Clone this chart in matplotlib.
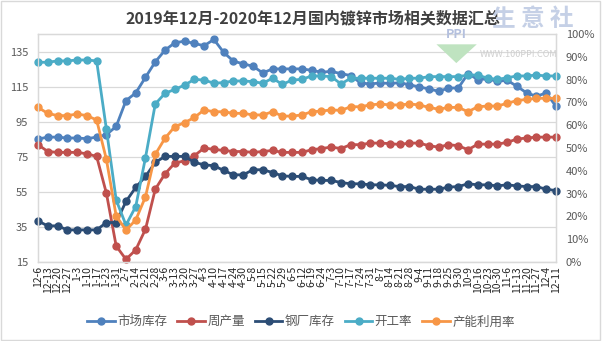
import matplotlib
matplotlib.use("Agg")
import matplotlib.pyplot as plt
from matplotlib.ticker import PercentFormatter
from matplotlib.patches import Rectangle, Polygon

plt.rcParams['font.family'] = ['Noto Sans CJK SC', 'DejaVu Sans']

dates = ["12-6", "12-13", "12-20", "12-27", "1-3", "1-10", "1-17", "1-23", "1-31",
         "2-7", "2-14", "2-21", "2-28", "3-6", "3-13", "3-20", "3-27",
         "4-3", "4-10", "4-17", "4-24", "4-30", "5-8", "5-15", "5-22", "5-29",
         "6-5", "6-12", "6-19", "6-24", "7-3", "7-10", "7-17", "7-24", "7-31",
         "8-7", "8-14", "8-21", "8-28", "9-4", "9-11", "9-18", "9-25", "9-30",
         "10-9", "10-16", "10-23", "10-30", "11-6", "11-13", "11-20", "11-27",
         "12-4", "12-11"]

# left axis (万吨)
market_stock = [85.1, 86.2, 86.2, 85.7, 85.7, 85.3, 86.2, 87.6, 92.3, 107.0,
                111.4, 120.3, 129.1, 135.8, 140.0, 140.9, 139.6, 138.3, 141.9, 134.5,
                129.5, 128.0, 126.6, 122.8, 125.1, 125.1, 125.1, 125.1, 124.3, 123.2,
                123.7, 122.4, 121.3, 117.1, 116.5, 117.1, 116.8, 117.2, 116.1, 114.8,
                113.7, 112.3, 114.2, 114.2, 122.4, 119.0, 119.4, 118.0, 118.6, 115.2,
                111.4, 109.5, 111.4, 103.7]
weekly_output = [81.9, 78.0, 77.5, 77.5, 77.5, 76.7, 75.2, 54.2, 24.1, 16.5,
                 21.9, 33.7, 56.5, 65.3, 71.4, 72.7, 75.6, 80.0, 79.2, 78.6,
                 78.0, 78.0, 77.5, 78.0, 78.6, 77.5, 77.5, 77.5, 79.0, 79.7,
                 80.5, 79.7, 81.9, 81.9, 82.8, 82.8, 82.5, 82.0, 82.8, 82.8,
                 81.3, 80.5, 81.9, 81.3, 79.0, 82.2, 82.2, 82.2, 83.2, 85.1,
                 85.7, 86.2, 86.2, 86.2]
mill_stock = [38.4, 35.6, 35.6, 33.3, 33.3, 33.3, 33.3, 37.5, 37.5, 49.5,
              57.5, 63.8, 71.8, 75.2, 75.2, 75.2, 71.8, 70.4, 69.9, 67.2,
              64.7, 64.7, 67.6, 67.6, 66.0, 64.1, 63.8, 63.8, 61.9, 61.5,
              61.5, 60.3, 59.6, 59.6, 59.0, 59.0, 58.7, 58.0, 58.0, 56.5,
              56.5, 56.5, 57.7, 58.0, 59.6, 59.0, 59.0, 58.4, 59.0, 58.4,
              58.0, 58.0, 56.5, 55.7]

# right axis (%)
operating_rate = [87.6, 87.6, 88.2, 88.2, 88.6, 88.6, 88.2, 58.2, 27.2, 16.2,
                  24.3, 45.8, 69.3, 74.0, 75.7, 77.6, 80.1, 79.8, 78.4, 78.7,
                  79.4, 79.4, 79.1, 78.4, 80.6, 77.9, 79.8, 80.1, 81.6, 81.6,
                  81.3, 78.1, 80.6, 80.6, 80.6, 80.6, 80.6, 80.1, 80.6, 80.6,
                  81.3, 81.3, 81.3, 81.3, 82.0, 82.0, 80.6, 80.1, 80.8, 81.6,
                  81.6, 82.0, 81.6, 81.6]
capacity_util = [67.8, 65.2, 64.2, 64.2, 64.9, 64.2, 62.3, 45.0, 20.2, 14.0,
                 18.4, 28.6, 47.2, 54.3, 59.4, 61.1, 63.4, 66.7, 65.9, 65.9,
                 65.2, 65.2, 64.5, 64.5, 65.9, 64.0, 64.0, 64.5, 65.9, 66.2,
                 66.7, 66.5, 68.1, 68.1, 68.9, 69.3, 68.9, 68.9, 69.3, 68.9,
                 67.8, 67.0, 67.8, 67.8, 65.9, 68.1, 68.4, 68.4, 69.6, 70.8,
                 71.3, 71.8, 71.8, 71.8]

grid_c = "#D9D9D9"
text_c = "#595959"

fig = plt.figure(figsize=(6.02, 3.41), dpi=100)
fig.patches.append(Rectangle((0.002, 0.003), 0.995, 0.993, transform=fig.transFigure,
                             fill=False, edgecolor=grid_c, linewidth=1.0))

ax = fig.add_axes([0.0631, 0.2317, 0.8605, 0.6686])
ax2 = ax.twinx()
x = list(range(len(dates)))

style = dict(linewidth=2.0, marker="o", markersize=5, clip_on=False)
h1, = ax.plot(x, market_stock, color="#4F81BD", label="市场库存", **style)
h2, = ax.plot(x, weekly_output, color="#C0504D", label="周产量", **style)
h3, = ax.plot(x, mill_stock, color="#2C4D75", label="钢厂库存", **style)
h4, = ax2.plot(x, operating_rate, color="#4BACC6", label="开工率", **style)
h5, = ax2.plot(x, capacity_util, color="#F79646", label="产能利用率", **style)

ax.set_xlim(0, len(dates) - 1)
ax.set_ylim(15, 145)
ax.set_yticks(range(15, 136, 20))
ax.yaxis.grid(True, color=grid_c, linewidth=0.9)
ax.set_axisbelow(True)
ax.set_xticks(x)
ax.set_xticklabels(dates, rotation=90, fontsize=7.5, color="#262626")

ax2.set_ylim(0, 100)
ax2.set_yticks(range(0, 101, 10))
ax2.yaxis.set_major_formatter(PercentFormatter(xmax=100, decimals=0))

for a in (ax, ax2):
    for s in a.spines.values():
        s.set_color(grid_c)
        s.set_linewidth(0.9)
    a.tick_params(axis="both", length=0, labelsize=8, labelcolor=text_c)
ax.tick_params(axis="y", pad=7)
ax2.tick_params(axis="y", pad=7)
ax.tick_params(axis="x", pad=3, labelsize=7.5, labelcolor="#262626")

fig.text(0.52, 0.945, "2019年12月-2020年12月国内镀锌市场相关数据汇总",
         ha="center", va="center", fontsize=11.5, fontweight="bold", color="#404040")

# site watermark, kept clear of the right tick labels
fig.text(0.885, 0.945, "生 意 社", ha="center", va="center", fontsize=17,
         color="#C5D0E6", fontweight="bold")
fig.text(0.862, 0.84, "WWW.100PPI.COM", ha="center", va="center", fontsize=6.5,
         color="#CFCFCF")
fig.text(0.758, 0.898, "PPI", ha="center", va="center", fontsize=9,
         color="#B4C0DE", fontweight="bold")
fig.patches.append(Polygon([(0.725, 0.87), (0.792, 0.87), (0.758, 0.815)],
                           closed=True, transform=fig.transFigure,
                           facecolor="#BFE3C0", edgecolor="none"))

fig.legend(handles=[h1, h2, h3, h4, h5], loc="center", bbox_to_anchor=(0.5, 0.056),
           ncol=5, frameon=False, fontsize=9, handlelength=2.2, handletextpad=0.2,
           columnspacing=0.8, labelcolor=text_c)

fig.savefig("out.png", dpi=100)
